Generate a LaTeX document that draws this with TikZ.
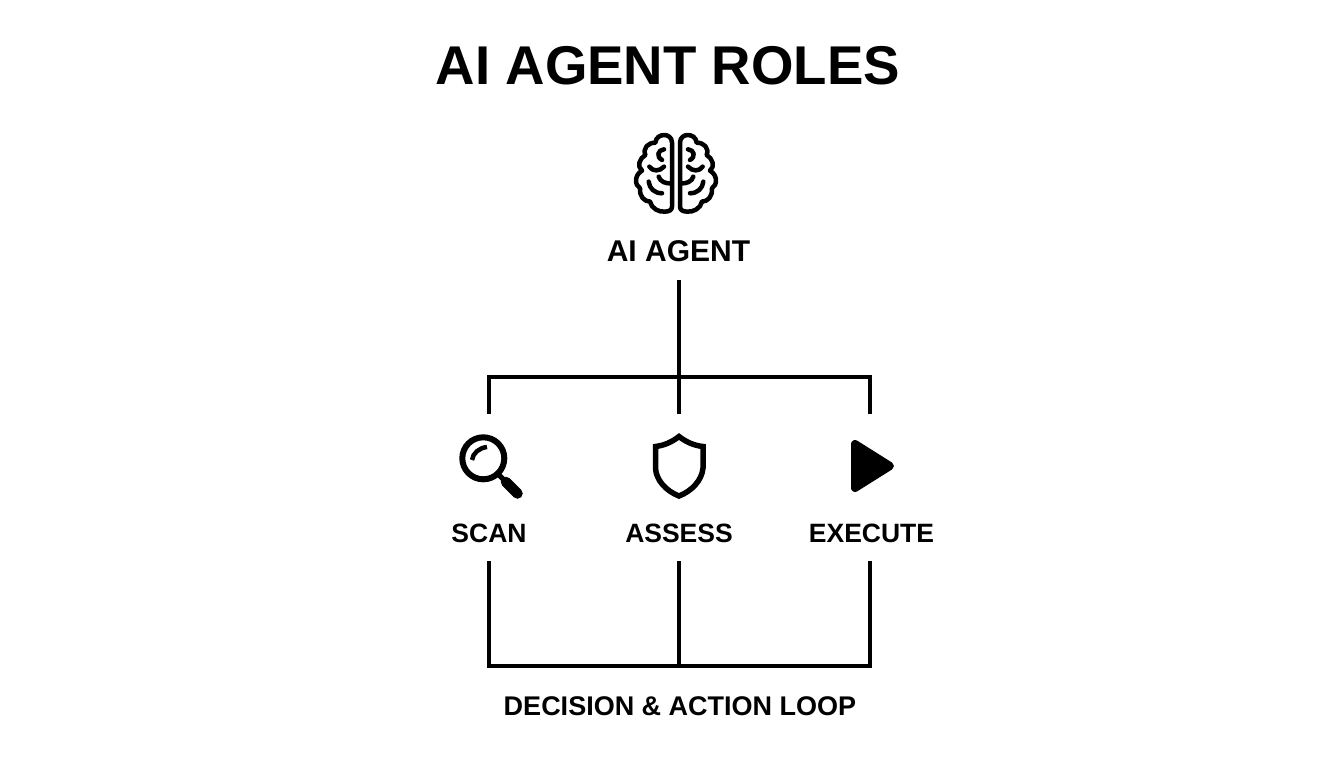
\documentclass[tikz,border=0pt]{standalone}
\usepackage{fontspec}
\setmainfont{Liberation Sans}
\tikzset{
  wire/.style={line width=4.5pt, line cap=butt},
  iconline/.style={line width=4.5pt, line join=round, line cap=round},
  titlelabel/.style={inner sep=0pt, font=\bfseries\fontsize{54.6}{60}\selectfont},
  rootlabel/.style={inner sep=0pt, minimum height=58pt, font=\bfseries\fontsize{30}{32}\selectfont},
  rolelabel/.style={inner sep=0pt, minimum height=56pt, font=\bfseries\fontsize{26.5}{30}\selectfont},
  iconbox/.style={inner sep=0pt, minimum width=80pt, minimum height=104pt},
}
\begin{document}
\begin{tikzpicture}[x=1pt, y=-1pt]
	\useasboundingbox (0,0) rectangle (1344,768);

	% Define the three columns and the two bars
	\def\xScan{489}
	\def\xAssess{679}
	\def\xExec{870}
	\def\yTop{377}
	\def\yLow{666}

	% Title and root
	\node[titlelabel] (title) at (668,66) {AI AGENT ROLES};
	\node[rootlabel] (agent) at (678.5,251) {AI AGENT};

	% Icon places and role labels
	\node[iconbox] (scanicon) at (\xScan,466) {};
	\node[iconbox] (assessicon) at (\xAssess,466) {};
	\node[iconbox] (execicon) at (\xExec,466) {};
	\node[rolelabel] (scan) at (\xScan,533) {SCAN};
	\node[rolelabel] (assess) at (\xAssess,533) {ASSESS};
	\node[rolelabel] (execute) at (871.5,533) {EXECUTE};
	\node[inner sep=0pt, font=\bfseries\fontsize{27}{30}\selectfont] (loop) at (680,706) {DECISION \& ACTION LOOP};

	% Bar middles
	\coordinate (topmid) at (\xAssess,\yTop);
	\coordinate (lowmid) at (\xAssess,\yLow);

	% Upper tree
	\draw[wire] (agent.south -| topmid) -- (assessicon.north);
	\draw[wire] (scanicon.north) |- (execicon.north |- topmid) -- (execicon.north);

	% Lower loop
	\draw[wire] (scan.south) |- (execicon.north |- lowmid) -- (execute.south -| execicon.north);
	\draw[wire] (assess.south) -- (lowmid);

	% Brain, one half drawn twice
	\foreach \side in {-1,1} {
		\begin{scope}[shift={(676,173.3)}, xscale=\side, x=0.333pt, y=-0.333pt]
			\draw[iconline]
				(-12,100) -- (-12,-92)
				.. controls (-12,-108) and (-25,-115) .. (-35,-115)
				.. controls (-48,-115) and (-60,-108) .. (-62,-92)
				.. controls (-85,-92) and (-100,-75) .. (-92,-55)
				.. controls (-110,-45) and (-118,-20) .. (-102,-8)
				.. controls (-125,5) and (-125,35) .. (-108,45)
				.. controls (-110,70) and (-95,85) .. (-78,85)
				.. controls (-75,105) and (-50,118) .. (-33,115)
				.. controls (-20,115) and (-12,110) .. (-12,100);
			\draw[iconline] (-36,-72) .. controls (-55,-70) and (-60,-50) .. (-42,-40);
			\draw[iconline] (-80,-20) .. controls (-70,-5) and (-50,-5) .. (-36,-20);
			\draw[iconline] (-52,10) .. controls (-48,25) and (-30,32) .. (-14,30);
			\draw[iconline] (-82,25) .. controls (-80,45) and (-65,60) .. (-42,60);
		\end{scope}
	}

	% Magnifying glass
	\draw[line width=6pt] (483.3,458.3) circle (21);
	\draw[line width=5pt] (498,474) -- (506,482);
	\draw[line width=10.5pt, line cap=round] (506,482) -- (517.5,493.5);
	\draw[line width=4.5pt] (472,460) .. controls (473,453) and (479,448) .. (487,447);

	% Shield
	\draw[line width=5.5pt, line join=miter] (679,436.5)
		.. controls (672,442) and (664,445.5) .. (655.5,446.5)
		-- (655.5,468)
		.. controls (656,480) and (666,491) .. (679,496)
		.. controls (692,491) and (702,480) .. (703,468)
		-- (703,446.5)
		.. controls (694,445.5) and (686,442) .. (679,436.5) -- cycle;

	% Play triangle
	\filldraw[line width=8pt, line join=round] (855,444) -- (890,466) -- (855,488) -- cycle;
\end{tikzpicture}
\end{document}
